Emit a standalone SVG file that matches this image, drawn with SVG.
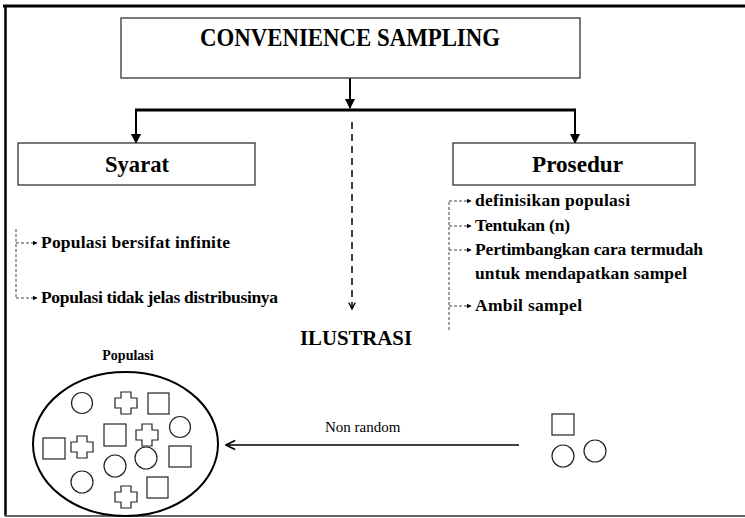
<svg xmlns="http://www.w3.org/2000/svg" width="745" height="518" viewBox="0 0 745 518">
  <style>
    text { font-family: "Liberation Serif", "Times New Roman", serif; fill: #000; }
    .title { font-size: 25px; font-weight: bold; text-anchor: middle; }
    .head { font-size: 24px; font-weight: bold; }
    .item { font-size: 17.5px; font-weight: bold; }
    .small { font-size: 14px; font-weight: bold; }
    .lbl { font-size: 15px; }
    .box { fill: #fff; stroke: #333; stroke-width: 1.3; }
    .solid { fill: none; stroke: #000; stroke-width: 2; }
    .bar { fill: none; stroke: #000; stroke-width: 3; }
    .dash { fill: none; stroke: #000; stroke-width: 1.5; stroke-dasharray: 7 5; }
    .bracket { fill: none; stroke: #444; stroke-width: 1; stroke-dasharray: 3 2; }
    .shape { fill: #fff; stroke: #222; stroke-width: 1.2; }
  </style>
  <defs>
    <marker id="head" viewBox="0 0 10 10" refX="9" refY="5" markerWidth="5" markerHeight="5" orient="auto" markerUnits="strokeWidth">
      <path d="M0,0 L10,5 L0,10 z" fill="#000"/>
    </marker>
    <marker id="tip" viewBox="0 0 10 10" refX="9" refY="5" markerWidth="5" markerHeight="5" orient="auto" markerUnits="userSpaceOnUse">
      <path d="M0,0 L10,5 L0,10 z" fill="#000"/>
    </marker>
    <marker id="vee" viewBox="0 0 10 10" refX="9" refY="5" markerWidth="8" markerHeight="8" orient="auto" markerUnits="userSpaceOnUse">
      <path d="M1,1 L9,5 L1,9" fill="none" stroke="#000" stroke-width="1.6"/>
    </marker>
    <marker id="open" viewBox="0 0 10 10" refX="9" refY="5" markerWidth="13" markerHeight="13" orient="auto" markerUnits="userSpaceOnUse">
      <path d="M2,1.5 L9,5 L2,8.5" fill="none" stroke="#000" stroke-width="1.3"/>
    </marker>
    <path id="plus" d="M-5,-11 H5 V-5 H11 V5 H5 V11 H-5 V5 H-11 V-5 H-5 Z"/>
  </defs>

  <!-- page frame -->
  <g id="frame">
    <line x1="3" y1="6" x2="745" y2="6" stroke="#000" stroke-width="3"/>
    <line x1="5.5" y1="5" x2="5.5" y2="516" stroke="#000" stroke-width="2.5"/>
    <line x1="5" y1="516" x2="745" y2="516" stroke="#666" stroke-width="2"/>
  </g>

  <!-- connectors -->
  <g id="connectors">
    <line class="solid" x1="350" y1="78" x2="350" y2="108" marker-end="url(#head)"/>
    <line class="bar" x1="135" y1="110" x2="576" y2="110"/>
    <line class="solid" x1="136" y1="110" x2="136" y2="143" marker-end="url(#head)"/>
    <line class="solid" x1="575" y1="110" x2="575" y2="143" marker-end="url(#head)"/>
    <line class="dash" x1="352" y1="122" x2="352" y2="309" marker-end="url(#vee)"/>
    <!-- Syarat bracket -->
    <path class="bracket" d="M16,229 V298"/>
    <path class="bracket" d="M16,243 H37" marker-end="url(#tip)"/>
    <path class="bracket" d="M16,298 H37" marker-end="url(#tip)"/>
    <!-- Prosedur bracket -->
    <path class="bracket" d="M449,330 V201"/>
    <path class="bracket" d="M449,201 H471" marker-end="url(#tip)"/>
    <path class="bracket" d="M449,226 H471" marker-end="url(#tip)"/>
    <path class="bracket" d="M449,250 H471" marker-end="url(#tip)"/>
    <path class="bracket" d="M449,306 H471" marker-end="url(#tip)"/>
    <!-- non random selection -->
    <line x1="519" y1="445" x2="226" y2="445" stroke="#000" stroke-width="1.6" marker-end="url(#open)"/>
  </g>

  <g id="convenience-sampling">
    <rect class="box" x="121" y="18" width="459" height="60"/>
    <text class="title" x="350" y="46" textLength="300" lengthAdjust="spacingAndGlyphs">CONVENIENCE SAMPLING</text>
  </g>

  <g id="syarat">
    <rect class="box" x="18" y="143" width="237" height="42"/>
    <text class="head" x="105" y="172" textLength="64" lengthAdjust="spacingAndGlyphs">Syarat</text>
  </g>

  <g id="prosedur">
    <rect class="box" x="453" y="143" width="242" height="42"/>
    <text class="head" x="532" y="172" textLength="91" lengthAdjust="spacingAndGlyphs">Prosedur</text>
  </g>

  <g id="syarat-items">
    <text class="item" x="41" y="248" textLength="189">Populasi bersifat infinite</text>
    <text class="item" x="41" y="303" textLength="237">Populasi tidak jelas distribusinya</text>
  </g>

  <g id="prosedur-items">
    <text class="item" x="475" y="206" textLength="155">definisikan populasi</text>
    <text class="item" x="475" y="231" textLength="95">Tentukan (n)</text>
    <text class="item" x="475" y="255" textLength="228">Pertimbangkan cara termudah</text>
    <text class="item" x="475" y="279" textLength="212">untuk mendapatkan sampel</text>
    <text class="item" x="475" y="311" textLength="107">Ambil sampel</text>
  </g>

  <g id="ilustrasi">
    <text class="head" x="300" y="345" textLength="112" lengthAdjust="spacingAndGlyphs" style="font-size:22px">ILUSTRASI</text>
  </g>

  <g id="populasi">
    <text class="small" x="128" y="360" text-anchor="middle">Populasi</text>
    <ellipse cx="125.5" cy="444" rx="92.5" ry="72" fill="#fff" stroke="#000" stroke-width="2"/>
    <circle class="shape" cx="82" cy="403" r="10.5"/>
    <use class="shape" href="#plus" x="126" y="403"/>
    <rect class="shape" x="148" y="393" width="21" height="21"/>
    <circle class="shape" cx="180" cy="427" r="10.5"/>
    <rect class="shape" x="104" y="424" width="22" height="22"/>
    <use class="shape" href="#plus" x="147" y="435"/>
    <rect class="shape" x="43" y="438" width="22" height="21"/>
    <use class="shape" href="#plus" x="82" y="447"/>
    <rect class="shape" x="169" y="446" width="22" height="21"/>
    <circle class="shape" cx="115" cy="466" r="11"/>
    <circle class="shape" cx="146" cy="458" r="11"/>
    <circle class="shape" cx="82" cy="482" r="11"/>
    <use class="shape" href="#plus" x="126" y="497"/>
    <rect class="shape" x="147" y="477" width="21" height="21"/>
  </g>

  <g id="non-random">
    <text class="lbl" x="325" y="432">Non random</text>
  </g>

  <g id="sampel">
    <rect class="shape" x="552" y="414" width="22" height="21"/>
    <circle class="shape" cx="563" cy="456" r="11"/>
    <circle class="shape" cx="595" cy="451" r="11"/>
  </g>
</svg>
